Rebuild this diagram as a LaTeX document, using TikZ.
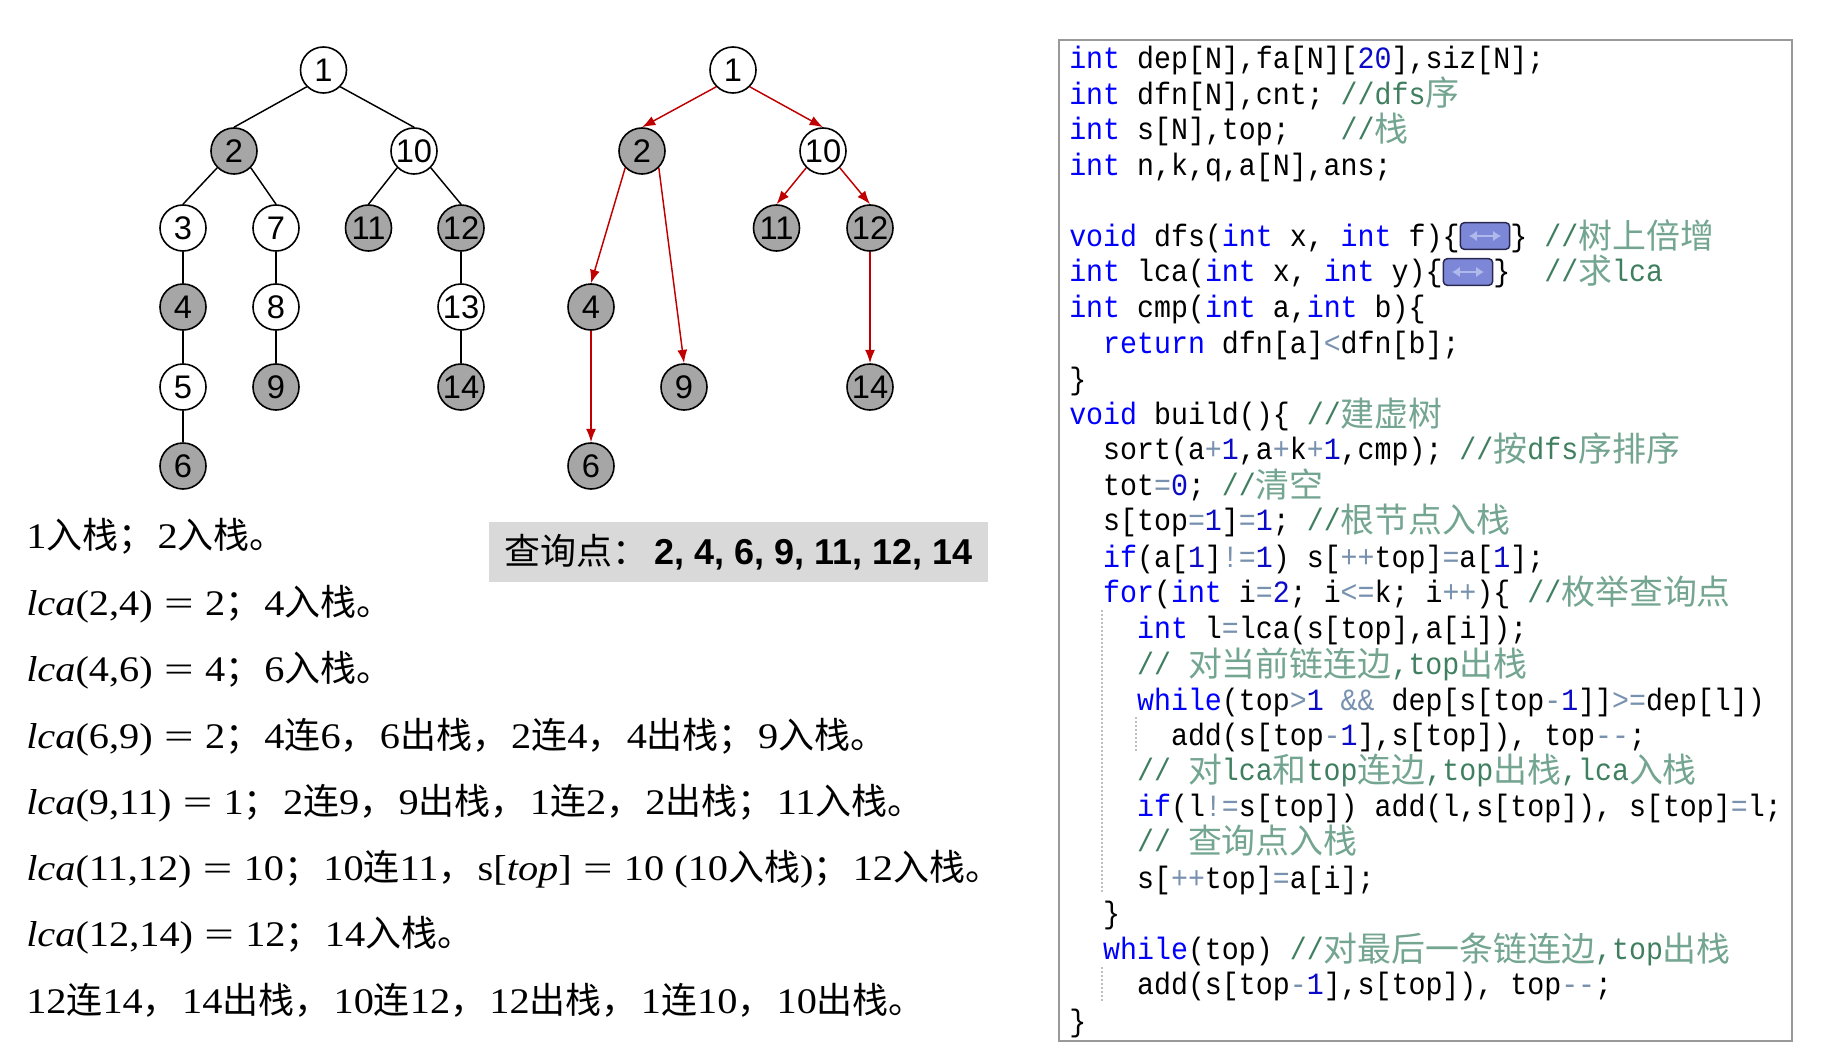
\documentclass[tikz,border=0pt]{standalone}
\usepackage{fontspec}
\usepackage{xcolor}
\usepackage{graphicx}
\usetikzlibrary{arrows.meta}
\setmainfont{Liberation Serif}[FakeStretch=1.12]
\newfontfamily\arialf{Liberation Sans}
\newfontfamily\cjk{Noto Sans CJK SC}
\newfontfamily\codef{Liberation Mono}[FakeStretch=0.914]
\definecolor{kwblue}{RGB}{0,0,255}
\definecolor{numblue}{RGB}{10,10,200}
\definecolor{opgrey}{RGB}{120,145,175}
\definecolor{cmgreen}{RGB}{63,127,95}
\definecolor{cmlight}{RGB}{115,165,145}
\definecolor{arrowred}{RGB}{192,0,0}
\definecolor{foldfill}{RGB}{125,135,215}
\definecolor{foldline}{RGB}{40,40,80}
\definecolor{foldarrow}{RGB}{175,185,235}
% left text
\newcommand{\ru}{{\cjk 入栈}}
\newcommand{\chu}{{\cjk 出栈}}
\newcommand{\lian}{{\cjk 连}}
\newcommand{\fen}{{\cjk ；}\hspace{2.4pt}}
\newcommand{\dou}{{\cjk ，}\hspace{2.4pt}}
\newcommand{\ju}{{\cjk 。}}
\newcommand{\lca}{\textit{lca}}
\newcommand{\eq}{\hspace{8.5pt}\scalebox{1.3}[1]{=}\hspace{8.5pt}}
% code text
\newcommand{\kw}[1]{\textcolor{kwblue}{#1}}
\newcommand{\nm}[1]{\textcolor{numblue}{#1}}
\newcommand{\op}[1]{\textcolor{opgrey}{#1}}
\newcommand{\cm}[1]{\textcolor{cmgreen}{#1}}
\newcommand{\cc}[1]{\raisebox{-1.5pt}{\textcolor{cmlight}{\cjk\fontsize{25.44}{30}\selectfont #1}}}
\newcommand{\sk}[1]{\hspace*{#1\dimexpr12.72pt\relax}}
\tikzset{
  whitenode/.style={circle,draw=black,line width=1.2pt,fill=white,minimum size=34.5pt,inner sep=0pt,font=\arialf\fontsize{24.5}{25}\selectfont},
  greynode/.style={whitenode,fill=black!35},
  blackedge/.style={line width=1.1pt,draw=black},
  rededge/.style={line width=1.1pt,draw=arrowred,-{Latex[length=10pt,width=7.5pt]}},
  lefttext/.style={anchor=base west,inner sep=0pt,font=\fontsize{27}{30}\selectfont},
  codeline/.style={anchor=base west,inner sep=0pt,font=\codef\fontsize{23.2}{30}\selectfont},
  foldbtn/.style={draw=foldline,line width=1.1pt,rounded corners=3pt,fill=foldfill,minimum width=37pt,minimum height=20pt,inner sep=0pt},
  foldmark/.style={line width=1.6pt,draw=foldarrow,{Latex[length=6pt,width=8pt]}-{Latex[length=6pt,width=8pt]}},
  guide/.style={line width=0.8pt,draw=black!25,dash pattern=on 1.5pt off 1.5pt},
}
\begin{document}
\begin{tikzpicture}[x=0.75pt,y=0.75pt,yscale=-1,xscale=1]
\useasboundingbox (0,0) rectangle (1824,1063);

% left tree
\node (a1) [whitenode] at (323.5,70) {1};
\node (a2) [greynode] at (234,151) {2};
\node (a10) [whitenode] at (414,151) {10};
\node (a3) [whitenode] at (183,228) {3};
\node (a7) [whitenode] at (276,228) {7};
\node (a11) [greynode] at (368.5,228) {11};
\node (a12) [greynode] at (461,228) {12};
\node (a4) [greynode] at (183,307) {4};
\node (a8) [whitenode] at (276,307) {8};
\node (a13) [whitenode] at (461,307) {13};
\node (a5) [whitenode] at (183,387) {5};
\node (a9) [greynode] at (276,387) {9};
\node (a14) [greynode] at (461,387) {14};
\node (a6) [greynode] at (183,466) {6};

\draw [blackedge] (a1.south west) -- (a2.north);
\draw [blackedge] (a1.south east) -- (a10.north);
\draw [blackedge] (a2.south west) -- (a3.north);
\draw [blackedge] (a2.south east) -- (a7.north);
\draw [blackedge] (a10.south west) -- (a11.north);
\draw [blackedge] (a10.south east) -- (a12.north);
\draw [blackedge] (a3) -- (a4);
\draw [blackedge] (a4) -- (a5);
\draw [blackedge] (a5) -- (a6);
\draw [blackedge] (a7) -- (a8);
\draw [blackedge] (a8) -- (a9);
\draw [blackedge] (a12) -- (a13);
\draw [blackedge] (a13) -- (a14);

% right tree
\node (b1) [whitenode] at (733,70) {1};
\node (b2) [greynode] at (642,151) {2};
\node (b10) [whitenode] at (823,151) {10};
\node (b11) [greynode] at (776.5,228) {11};
\node (b12) [greynode] at (870,228) {12};
\node (b4) [greynode] at (591,307) {4};
\node (b9) [greynode] at (684,387) {9};
\node (b14) [greynode] at (870,387) {14};
\node (b6) [greynode] at (591,466) {6};

\draw [rededge] (b1.south west) -- (b2.north);
\draw [rededge] (b1.south east) -- (b10.north);
\draw [rededge] (b2.south west) -- (b4.north);
\draw [rededge] (b2.south east) -- (b9.north);
\draw [rededge] (b10.south west) -- (b11.north);
\draw [rededge] (b10.south east) -- (b12.north);
\draw [rededge] (b4) -- (b6);
\draw [rededge] (b12) -- (b14);

% query box
\node (query) [fill=black!15,minimum width=374pt,minimum height=45pt,inner sep=0pt,font=\fontsize{27}{30}\selectfont] at (738.5,552) {{\cjk 查询点：}\hspace{5pt}{\arialf\bfseries 2, 4, 6, 9, 11, 12, 14}};

% left text
\node (t1) [lefttext] at (26,548) {1\ru\fen 2\ru\ju};
\node (t2) [lefttext] at (26,615) {\lca(2,4)\eq 2\fen 4\ru\ju};
\node (t3) [lefttext] at (26,681) {\lca(4,6)\eq 4\fen 6\ru\ju};
\node (t4) [lefttext] at (26,748) {\lca(6,9)\eq 2\fen 4\lian 6\dou 6\chu\dou 2\lian 4\dou 4\chu\fen 9\ru\ju};
\node (t5) [lefttext] at (26,814) {\lca(9,11)\eq 1\fen 2\lian 9\dou 9\chu\dou 1\lian 2\dou 2\chu\fen 11\ru\ju};
\node (t6) [lefttext] at (26,880) {\lca(11,12)\eq 10\fen 10\lian 11\dou s[\textit{top}]\eq 10 (10\ru)\fen 12\ru\ju};
\node (t7) [lefttext] at (26,946) {\lca(12,14)\eq 12\fen 14\ru\ju};
\node (t8) [lefttext] at (26,1013) {12\lian 14\dou 14\chu\dou 10\lian 12\dou 12\chu\dou 1\lian 10\dou 10\chu\ju};

% code panel
\draw [line width=1.6pt,draw=black!40,fill=white] (1059,40) rectangle (1792,1041);
\draw [guide] (1102,610) -- (1102,893);
\draw [guide] (1136,717) -- (1136,751);
\draw [guide] (1102,967) -- (1102,1002);

\node (c1) [codeline] at (1069,69) {\kw{int} dep[N],fa[N][\nm{20}],siz[N];};
\node (c2) [codeline] at (1069,104) {\kw{int} dfn[N],cnt; \cm{//dfs}\cc{序}};
\node (c3) [codeline] at (1069,139) {\kw{int} s[N],top;\sk{3}\cm{//}\cc{栈}};
\node (c4) [codeline] at (1069,175) {\kw{int} n,k,q,a[N],ans;};
\node (c6) [codeline] at (1069,246) {\kw{void} dfs(\kw{int} x, \kw{int} f)\{\sk{3}\} \cm{//}\cc{树上倍增}};
\node (c7) [codeline] at (1069,281) {\kw{int} lca(\kw{int} x, \kw{int} y)\{\sk{3}\}\sk{2}\cm{//}\cc{求}\cm{lca}};
\node (c8) [codeline] at (1069,317) {\kw{int} cmp(\kw{int} a,\kw{int} b)\{};
\node (c9) [codeline] at (1069,353) {\sk{2}\kw{return} dfn[a]\op{<}dfn[b];};
\node (c10) [codeline] at (1069,389) {\}};
\node (c11) [codeline] at (1069,424) {\kw{void} build()\{ \cm{//}\cc{建虚树}};
\node (c12) [codeline] at (1069,459) {\sk{2}sort(a\op{+}\nm{1},a\op{+}k\op{+}\nm{1},cmp); \cm{//}\cc{按}\cm{dfs}\cc{序排序}};
\node (c13) [codeline] at (1069,495) {\sk{2}tot\op{=}\nm{0}; \cm{//}\cc{清空}};
\node (c14) [codeline] at (1069,530) {\sk{2}s[top\op{=}\nm{1}]\op{=}\nm{1}; \cm{//}\cc{根节点入栈}};
\node (c15) [codeline] at (1069,567) {\sk{2}\kw{if}(a[\nm{1}]\op{!=}\nm{1}) s[\op{+{}+}top]\op{=}a[\nm{1}];};
\node (c16) [codeline] at (1069,602) {\sk{2}\kw{for}(\kw{int} i\op{=}\nm{2}; i\op{<=}k; i\op{+{}+})\{ \cm{//}\cc{枚举查询点}};
\node (c17) [codeline] at (1069,638) {\sk{4}\kw{int} l\op{=}lca(s[top],a[i]);};
\node (c18) [codeline] at (1069,674) {\sk{4}\cm{//} \cc{对当前链连边}\cm{,top}\cc{出栈}};
\node (c19) [codeline] at (1069,710) {\sk{4}\kw{while}(top\op{>}\nm{1} \op{\&\&} dep[s[top\op{-}\nm{1}]]\op{>=}dep[l])};
\node (c20) [codeline] at (1069,745) {\sk{6}add(s[top\op{-}\nm{1}],s[top]), top\op{-{}-};};
\node (c21) [codeline] at (1069,780) {\sk{4}\cm{//} \cc{对}\cm{lca}\cc{和}\cm{top}\cc{连边}\cm{,top}\cc{出栈}\cm{,lca}\cc{入栈}};
\node (c22) [codeline] at (1069,816) {\sk{4}\kw{if}(l\op{!=}s[top]) add(l,s[top]), s[top]\op{=}l;};
\node (c23) [codeline] at (1069,851) {\sk{4}\cm{//} \cc{查询点入栈}};
\node (c24) [codeline] at (1069,888) {\sk{4}s[\op{+{}+}top]\op{=}a[i];};
\node (c25) [codeline] at (1069,923) {\sk{2}\}};
\node (c26) [codeline] at (1069,959) {\sk{2}\kw{while}(top) \cm{//}\cc{对最后一条链连边}\cm{,top}\cc{出栈}};
\node (c27) [codeline] at (1069,994) {\sk{4}add(s[top\op{-}\nm{1}],s[top]), top\op{-{}-};};
\node (c28) [codeline] at (1069,1031) {\}};

% fold buttons
\node (fold1) [foldbtn] at (1485,236) {};
\node (fold2) [foldbtn] at (1468,272) {};
\draw [foldmark] ([xshift=7]fold1.west) -- ([xshift=-7]fold1.east);
\draw [foldmark] ([xshift=7]fold2.west) -- ([xshift=-7]fold2.east);

\end{tikzpicture}
\end{document}
